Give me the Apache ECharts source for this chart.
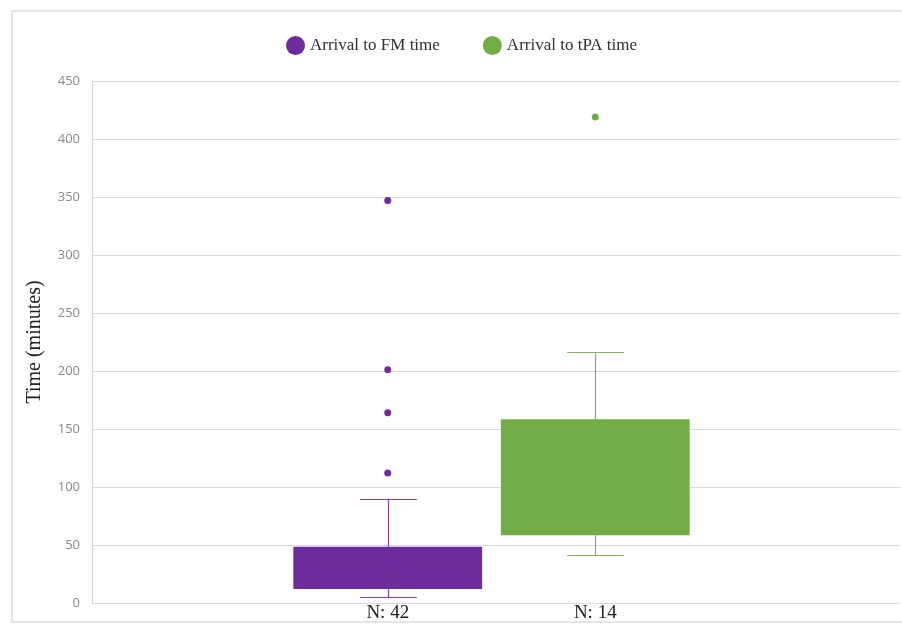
<!DOCTYPE html>
<html>
<head>
<meta charset="utf-8">
<title>Arrival to FM / tPA time</title>
<script src="https://cdn.jsdelivr.net/npm/echarts@6/dist/echarts.min.js"></script>
<style>
  html, body { margin: 0; padding: 0; background: #ffffff; }
  #chart { width: 902px; height: 629px; }
</style>
</head>
<body>
<div id="chart"></div>
<script>
// Group labels shown under each box
const categories = ['N: 42', 'N: 14'];
const seriesNames = ['Arrival to FM time', 'Arrival to tPA time'];
const seriesColors = ['#6c2c9e', '#70ad47'];

// Box summaries in minutes: [lower whisker, Q1, Q3, upper whisker]
const fmBox = [5, 12, 48.5, 90];
const tpaBox = [41, 58.5, 158.5, 216];

// Outlying observations in minutes
const fmOutliers = [347, 201, 164, 112];
const tpaOutliers = [419];

// Value axis ticks
const yTicks = [0, 50, 100, 150, 200, 250, 300, 350, 400, 450];

const chart = echarts.init(document.getElementById('chart'), null, { renderer: 'canvas' });

const serifFont = '"Liberation Serif", "DejaVu Serif", serif';

// Draws a box with whiskers using the axis scales
function renderBox(params, api) {
  const x = api.value(0);
  const lo = api.coord([x, api.value(1)]);
  const q1 = api.coord([x, api.value(2)]);
  const q3 = api.coord([x, api.value(3)]);
  const hi = api.coord([x, api.value(4)]);
  const band = api.size([1, 0])[0];
  const w = band * 0.91;
  const cap = w * 0.3;
  const color = api.visual('color');
  const lineStyle = { stroke: color, lineWidth: 1.2, opacity: 0.9 };
  const cx = Math.round(q1[0]) + 0.5;
  return {
    type: 'group',
    children: [
      { type: 'line', shape: { x1: cx, y1: hi[1], x2: cx, y2: q3[1] }, style: lineStyle },
      { type: 'line', shape: { x1: cx, y1: lo[1], x2: cx, y2: q1[1] }, style: lineStyle },
      { type: 'line', shape: { x1: cx - cap / 2, y1: Math.round(hi[1]) + 0.5, x2: cx + cap / 2, y2: Math.round(hi[1]) + 0.5 }, style: lineStyle },
      { type: 'line', shape: { x1: cx - cap / 2, y1: Math.round(lo[1]) + 0.5, x2: cx + cap / 2, y2: Math.round(lo[1]) + 0.5 }, style: lineStyle },
      { type: 'rect', shape: { x: q1[0] - w / 2, y: q3[1], width: w, height: q1[1] - q3[1] }, style: { fill: color } }
    ]
  };
}

const yAxisBase = {
  type: 'value',
  min: yTicks[0],
  max: yTicks[yTicks.length - 1],
  interval: yTicks[1] - yTicks[0]
};

const option = {
  backgroundColor: '#ffffff',
  animation: false,
  graphic: [{
    type: 'rect',
    shape: { x: 12, y: 11, width: 900, height: 611 },
    style: { fill: 'none', stroke: '#dcdcdc', lineWidth: 1.5 },
    silent: true,
    z: -1
  }],
  legend: {
    data: seriesNames,
    left: 281,
    top: 31,
    icon: 'circle',
    itemWidth: 19,
    itemHeight: 19,
    itemGap: 43,
    textStyle: { fontFamily: serifFont, fontSize: 17, color: '#303030' }
  },
  grid: [
    { left: 92, right: 2, top: 81, bottom: 26 },
    { left: 284, right: 203, top: 81, bottom: 26 }
  ],
  xAxis: [
    { type: 'category', gridIndex: 0, data: [''], show: false },
    {
      type: 'category',
      gridIndex: 1,
      data: categories,
      axisLine: { show: false },
      axisTick: { show: false },
      axisLabel: { margin: 1, fontFamily: serifFont, fontSize: 19, color: '#202020' }
    }
  ],
  yAxis: [
    Object.assign({}, yAxisBase, {
      gridIndex: 0,
      name: 'Time (minutes)',
      nameLocation: 'middle',
      nameGap: 47,
      nameTextStyle: { fontFamily: serifFont, fontSize: 20, color: '#202020' },
      axisLine: { show: true, lineStyle: { color: '#d4d4d4' } },
      axisTick: { show: false },
      axisLabel: { margin: 12, fontFamily: '"Open Sans", "Noto Sans", sans-serif', fontSize: 13, color: '#8a8a8a' },
      splitLine: { show: true, lineStyle: { color: '#dadada', width: 1 } }
    }),
    Object.assign({}, yAxisBase, {
      gridIndex: 1,
      show: false,
      splitLine: { show: false }
    })
  ],
  series: [
    {
      name: seriesNames[0],
      type: 'custom',
      xAxisIndex: 1,
      yAxisIndex: 1,
      itemStyle: { color: seriesColors[0] },
      encode: { x: 0, y: [1, 2, 3, 4] },
      renderItem: renderBox,
      data: [[0].concat(fmBox)]
    },
    {
      name: seriesNames[1],
      type: 'custom',
      xAxisIndex: 1,
      yAxisIndex: 1,
      itemStyle: { color: seriesColors[1] },
      encode: { x: 0, y: [1, 2, 3, 4] },
      renderItem: renderBox,
      data: [[1].concat(tpaBox)]
    },
    {
      name: seriesNames[0],
      type: 'scatter',
      xAxisIndex: 1,
      yAxisIndex: 1,
      symbolSize: 7,
      itemStyle: { color: seriesColors[0], opacity: 1 },
      data: fmOutliers.map(v => [0, v])
    },
    {
      name: seriesNames[1],
      type: 'scatter',
      xAxisIndex: 1,
      yAxisIndex: 1,
      symbolSize: 7,
      itemStyle: { color: seriesColors[1], opacity: 1 },
      data: tpaOutliers.map(v => [1, v])
    }
  ]
};

chart.setOption(option);
</script>
</body>
</html>
